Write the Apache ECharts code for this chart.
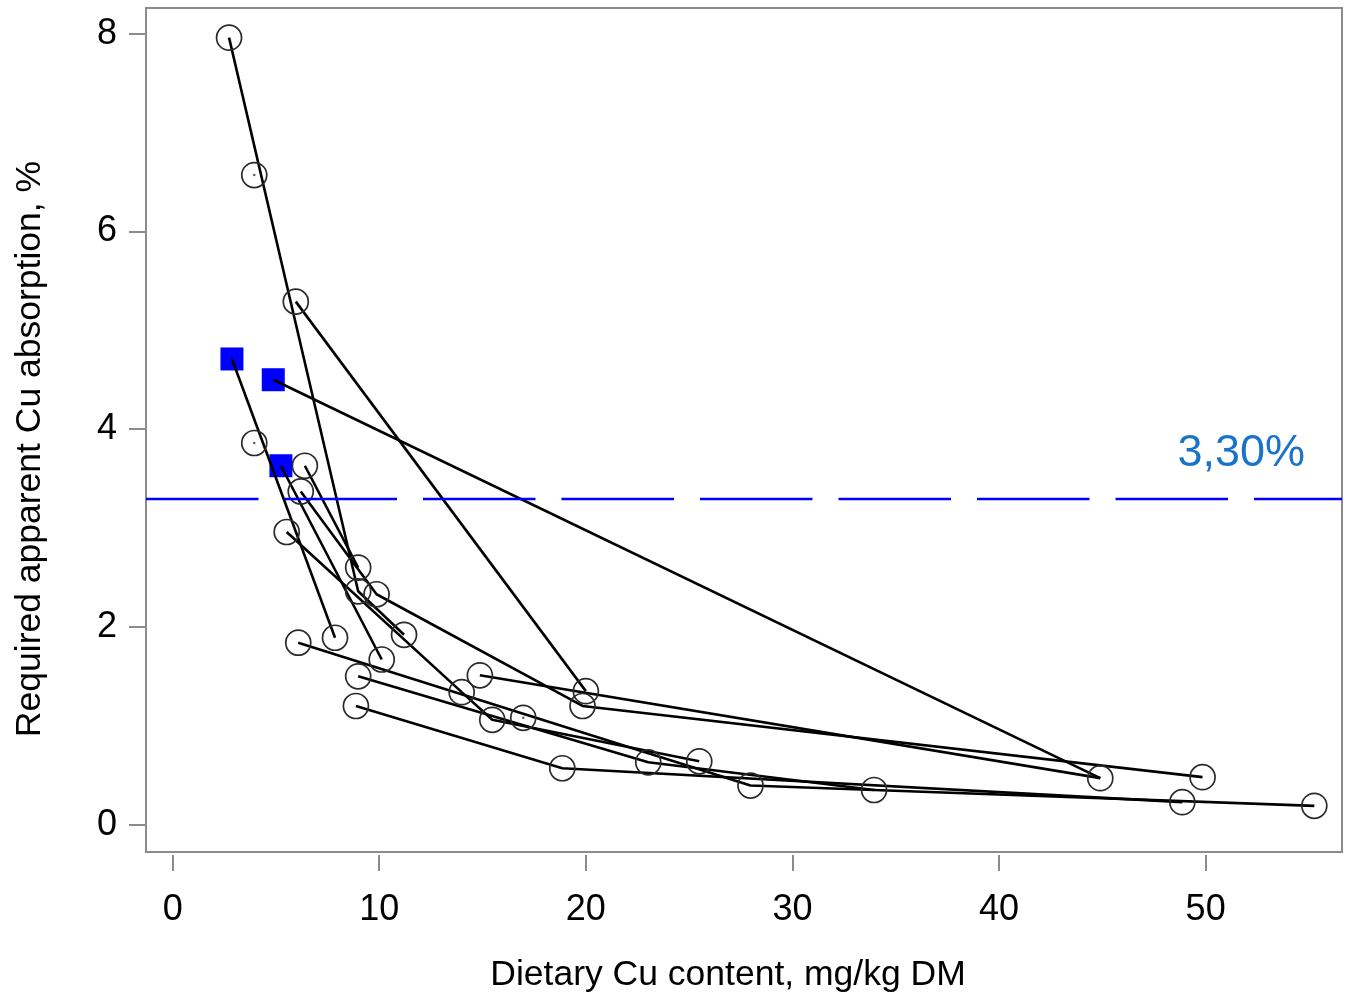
<!DOCTYPE html>
<html><head><meta charset="utf-8">
<script src="https://cdn.jsdelivr.net/npm/echarts@6/dist/echarts.min.js"></script>
<style>html,body{margin:0;padding:0;background:#fff}#c{width:1350px;height:998px}</style>
</head><body><div id="c"></div>
<script>
// ---- data ----
const xTicks = [0, 10, 20, 30, 40, 50];
const yTicks = [0, 2, 4, 6, 8];
const xRange = [-1.29, 56.6];
const yRange = [-0.277, 8.26];
const refValue = 3.3;
const refLabel = '3,30%';
const xTitle = 'Dietary Cu content, mg/kg DM';
const yTitle = 'Required apparent Cu absorption, %';

// connected groups (dietary Cu, required absorption %)
const study1 = [[2.73, 7.96], [8.98, 2.36], [11.2, 1.92]];
const study2 = [[6.40, 3.63], [8.98, 2.60]];
const study3 = [[5.96, 5.29], [20.0, 1.35]];
const study4 = [[4.87, 4.50], [44.9, 0.47]];
const study5 = [[14.87, 1.51], [44.9, 0.47]];
const study6 = [[2.87, 4.71], [7.86, 1.89]];
const study7 = [[5.24, 3.63], [10.12, 1.67]];
const study8 = [[6.20, 3.37], [9.87, 2.33], [19.84, 1.20], [49.85, 0.48]];
const study9 = [[5.52, 2.96], [13.99, 1.34], [15.47, 1.06], [25.49, 0.64]];
const study10 = [[6.08, 1.84], [27.97, 0.395], [33.95, 0.35], [55.26, 0.19]];
const study11 = [[8.98, 1.50], [23.02, 0.63], [33.95, 0.35]];
const study12 = [[8.87, 1.20], [18.86, 0.57], [48.87, 0.227]];

const squarePoints = [[2.87, 4.71], [4.87, 4.50], [5.24, 3.63]];
const singlePoints = [[3.95, 6.57], [3.95, 3.86], [16.97, 1.08]];

const studies = [study1, study2, study3, study4, study5, study6, study7, study8, study9, study10, study11, study12];

// circles: every study point that is not a square, plus single points
const sqKeys = new Set(squarePoints.map(p => p.join(',')));
const seen = new Set();
const circlePoints = [];
studies.concat([singlePoints]).forEach(s => s.forEach(p => {
  const k = p.join(',');
  if (!sqKeys.has(k) && !seen.has(k)) { seen.add(k); circlePoints.push(p); }
}));

const FONT = "'Liberation Sans', Arial, Helvetica, sans-serif";
const AXIS_GRAY = '#8c8c8c';

const series = [];
series.push({
  type: 'line', data: [], silent: true, z: 1,
  markLine: {
    silent: true, symbol: ['none', 'none'], animation: false,
    lineStyle: { color: '#0000ff', width: 2.4, type: [112.5, 26] },
    label: {
      show: true, formatter: refLabel, position: 'insideEndTop',
      distance: [37, 22], color: '#1a73c8', fontSize: 45, fontFamily: FONT
    },
    data: [{ yAxis: refValue }]
  }
});
series.push({
  type: 'scatter', data: squarePoints, symbol: 'rect', symbolSize: 23, z: 2,
  itemStyle: { color: '#0000ff', opacity: 1 }, silent: true
});
studies.forEach(s => series.push({
  type: 'line', data: s, symbol: 'none', z: 3, silent: true,
  lineStyle: { color: '#000', width: 2.6 }
}));
series.push({
  type: 'scatter', data: circlePoints, symbol: 'circle', symbolSize: 25, z: 4, silent: true,
  itemStyle: { color: 'rgba(0,0,0,0)', borderColor: '#2a2a2a', borderWidth: 1.7, opacity: 1 }
});
series.push({
  type: 'scatter', data: singlePoints, symbol: 'circle', symbolSize: 2.5, z: 5, silent: true,
  itemStyle: { color: '#333' }
});

const chart = echarts.init(document.getElementById('c'), null, { renderer: 'canvas' });
chart.setOption({
  animation: false,
  backgroundColor: '#fff',
  grid: { left: 146, right: 8, top: 8, bottom: 143, show: true, borderColor: AXIS_GRAY, borderWidth: 2, containLabel: false },
  xAxis: {
    type: 'value', min: xRange[0], max: xRange[1], offset: 3,
    axisLine: { show: false, onZero: false },
    axisTick: { show: true, customValues: xTicks, length: 16, lineStyle: { color: AXIS_GRAY, width: 2 } },
    axisLabel: { customValues: xTicks, fontSize: 36, margin: 37, color: '#000', fontFamily: FONT },
    splitLine: { show: false },
    name: xTitle, nameLocation: 'middle', nameGap: 102,
    nameTextStyle: { fontSize: 35.5, color: '#000', fontFamily: FONT, padding: [0, 32, 0, 0] }
  },
  yAxis: {
    type: 'value', min: yRange[0], max: yRange[1], offset: 0,
    axisLine: { show: false, onZero: false },
    axisTick: { show: true, customValues: yTicks, length: 17, lineStyle: { color: AXIS_GRAY, width: 2 } },
    axisLabel: { customValues: yTicks, fontSize: 36, margin: 29, color: '#000', fontFamily: FONT },
    splitLine: { show: false },
    name: yTitle, nameLocation: 'middle', nameGap: 98, nameRotate: 90,
    nameTextStyle: { fontSize: 35.5, color: '#000', fontFamily: FONT, padding: [0, 38, 0, 0] }
  },
  series: series
});
</script></body></html>
